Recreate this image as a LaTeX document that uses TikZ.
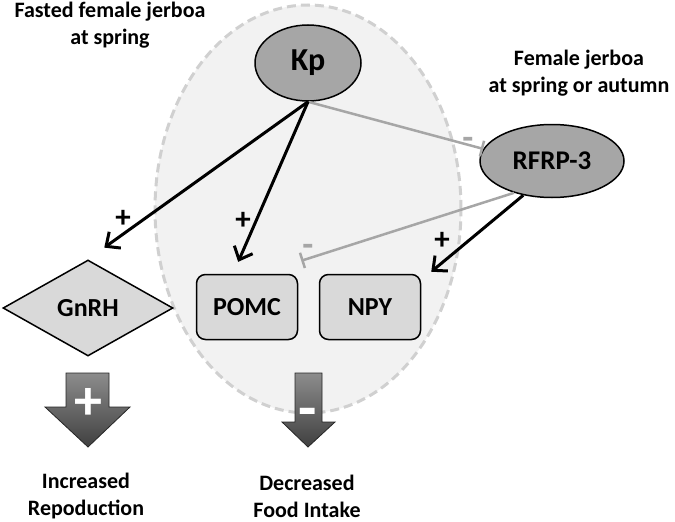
\documentclass[tikz,border=0pt]{standalone}
\usepackage{fontspec}
\setmainfont{Carlito}
\usetikzlibrary{shapes.geometric,arrows.meta,positioning}
\definecolor{hypfill}{HTML}{F2F2F2}
\definecolor{dashgray}{HTML}{D0D0D0}
\definecolor{kpgray}{HTML}{A6A6A6}
\definecolor{boxgray}{HTML}{D9D9D9}
\definecolor{linegray}{HTML}{A6A6A6}
\definecolor{arrtop}{HTML}{8C8C8C}
\definecolor{arrbot}{HTML}{404040}
\newcommand{\fs}[1]{\bfseries\fontsize{#1}{#1}\selectfont}
\begin{document}
\begin{tikzpicture}[x=1pt,y=-1pt,
  hormone/.style={ellipse,draw,line width=1.5pt,fill=kpgray,inner sep=0pt},
  cell/.style={rectangle,rounded corners=9pt,draw,line width=1.5pt,fill=boxgray,minimum width=101pt,minimum height=65pt,font=\fs{26}},
  stim/.style={line width=3pt,-{Straight Barb[length=11pt,width=20pt,line width=3pt]}},
  inhib/.style={line width=2.5pt,draw=linegray,-{Bar[width=16pt,line width=2.5pt]}},
  lbl/.style={font=\bfseries\fontsize{22}{27}\selectfont,align=center},
  sign/.style={font=\fs{31},inner sep=0pt},
  block/.style={top color=arrtop,bottom color=arrbot,draw=black!85,line width=0.8pt}]
\useasboundingbox (0,0) rectangle (675,522);
\node[ellipse,draw=dashgray,fill=hypfill,line width=3pt,dash pattern=on 9pt off 5pt,minimum width=306pt,minimum height=408pt] (hyp) at (308,209) {};
\node[hormone,minimum width=106pt,minimum height=76pt,font=\fs{32}] (Kp) at (308,63) {Kp};
\node[hormone,minimum width=144pt,minimum height=73pt,font=\fs{27}] (RFRP) at (552,161) {RFRP-3};
\node[diamond,draw,line width=1.5pt,fill=boxgray,aspect=2,inner sep=0pt,minimum width=170pt,minimum height=96pt,font=\fs{26}] (GnRH) at (88,308) {GnRH};
\node[cell] (POMC) at (247,307) {POMC};
\node[cell] (NPY) at (370,307) {NPY};
\node[lbl] (fasted) at (110,25) {Fasted female jerboa\\at spring};
\node[lbl] (female) at (579,73) {Female jerboa\\at spring or autumn};
\node[lbl] (incr) at (86,496) {Increased\\Repoduction};
\node[lbl] (decr) at (307,496) {Decreased\\Food Intake};
\draw[inhib,shorten <=1pt] (Kp.south) -- (RFRP.170);
\draw[inhib] (RFRP.220) -- ([shift={(3,-13)}]POMC.north east);
\draw[stim,shorten >=20pt] (Kp.south) -- (GnRH.north);
\draw[stim,shorten >=13pt] (Kp.south) -- ([xshift=-14pt]POMC.north);
\draw[stim] (RFRP.230) -- ([shift={(10,-2)}]NPY.north east);
\node[sign] (p1) at (123,219) {+};
\node[sign] (p2) at (243,221) {+};
\node[sign] (p3) at (442,241) {+};
\node[sign,linegray,font=\fs{36}] (m1) at (468,143) {-};
\node[sign,linegray,font=\fs{36}] (m2) at (308,250) {-};
\shade[block] (66,373) -- (109,373) -- (109,407) -- (130,407) -- (88,447) -- (45,407) -- (66,407) -- cycle;
\shade[block] (295,373) -- (322,373) -- (322,422) -- (335,422) -- (308,447) -- (282,422) -- (295,422) -- cycle;
\node[sign,white,font=\fs{56}] (up) at (88,404) {+};
\node[sign,white,font=\fs{60}] (down) at (308,418) {-};
\end{tikzpicture}
\end{document}
